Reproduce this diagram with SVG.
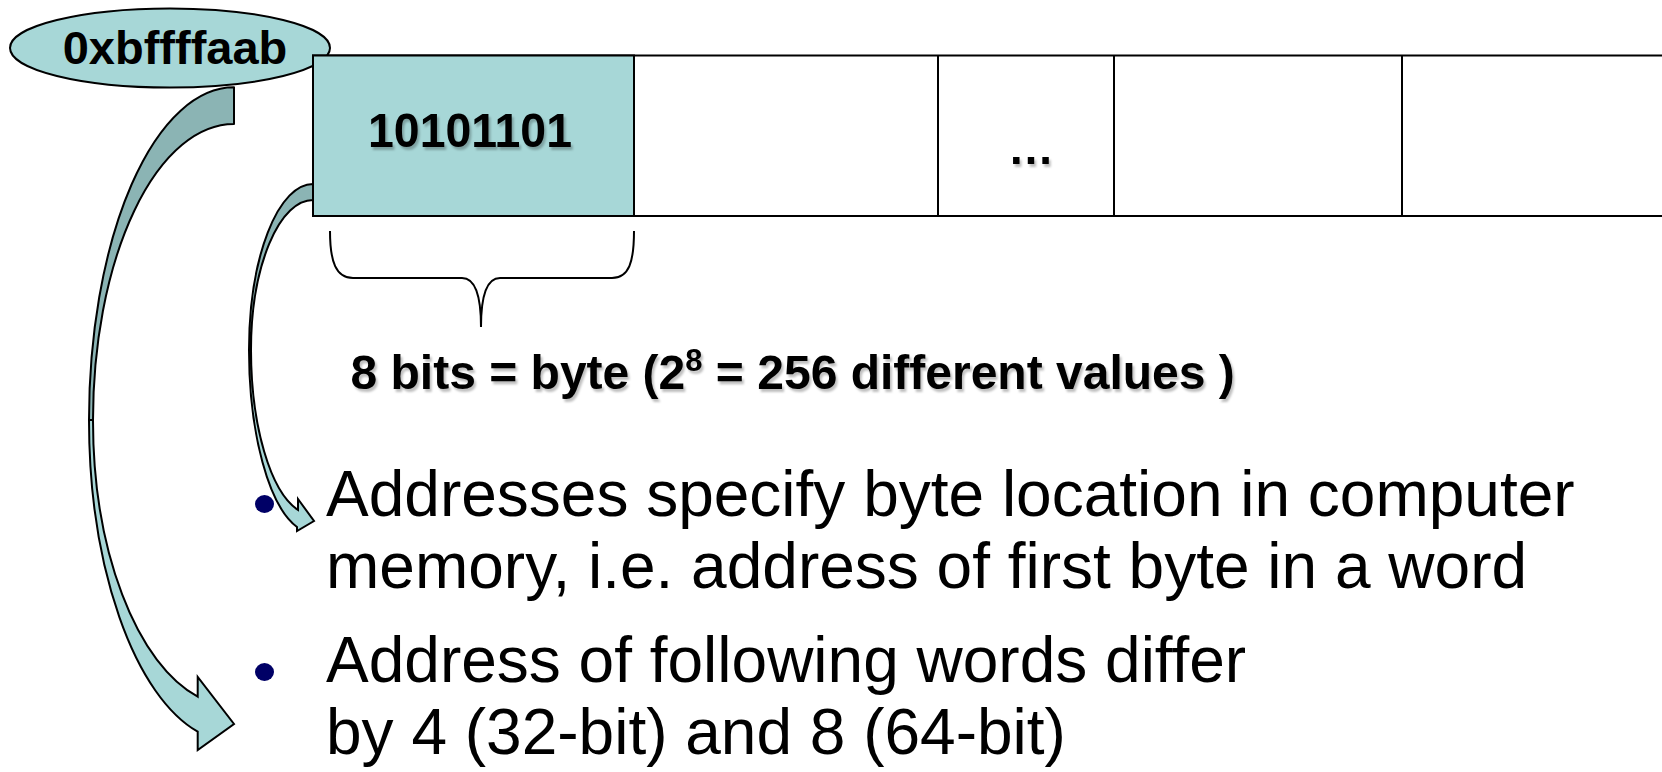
<svg xmlns="http://www.w3.org/2000/svg" width="1662" height="772" viewBox="0 0 1662 772">
<style>
.bold{font-family:"Liberation Sans",Arial,sans-serif;font-weight:bold;fill:#000}
.body{font-family:"Liberation Sans",Arial,sans-serif;font-size:64px;fill:#000}
.teal{fill:#A7D7D7;stroke:#000;stroke-width:2}
.back{fill:#8BB4B4;stroke:#000;stroke-width:2;stroke-linejoin:round}
.front{fill:#A7D7D7;stroke:#000;stroke-width:2;stroke-linejoin:miter}
.line{fill:none;stroke:#000;stroke-width:2}
.bullet{fill:#000066}
</style>
<defs>
<filter id="shadow" x="-10%" y="-20%" width="120%" height="150%">
<feDropShadow dx="2" dy="3" stdDeviation="1.2" flood-color="#000" flood-opacity="0.25"/>
</filter>
</defs>
<rect width="1662" height="772" fill="#fff"/>

<g id="address">
<ellipse class="teal" cx="170" cy="48" rx="160" ry="39.5"/>
<text class="bold" x="175" y="64" font-size="47" text-anchor="middle">0xbffffaab</text>
</g>

<g id="connectors">
<path class="back" d="M 234 87.3 A 145 332.7 0 0 0 89 420 L 93 420 A 141 296 0 0 1 234 124 Z"/>
<path class="front" d="M 89 420 A 145 322 0 0 0 197.7 731.7 L 197.7 750 L 234 724 L 197.7 677 L 197.7 696.7 A 141 286 0 0 1 93 420 Z"/>
<path class="back" d="M 313 184 A 64 166 0 0 0 249 350 L 251 350 A 62 150 0 0 1 313 200 Z"/>
<path class="front" d="M 249 350 A 64 183 0 0 0 297 527 L 297 531 L 314 521 L 298 499 L 298 510 A 62 165 0 0 1 251 350 Z"/>
</g>

<g id="memory">
<rect x="313" y="55.5" width="1400" height="160.5" fill="#fff" stroke="#000" stroke-width="2"/>
<rect class="teal" x="313" y="55.5" width="321" height="160.5"/>
<line class="line" x1="938" y1="55.5" x2="938" y2="216"/>
<line class="line" x1="1114" y1="55.5" x2="1114" y2="216"/>
<line class="line" x1="1402" y1="55.5" x2="1402" y2="216"/>
<text class="bold" x="470" y="147" font-size="48" text-anchor="middle" textLength="204" lengthAdjust="spacingAndGlyphs" filter="url(#shadow)">10101101</text>
<text class="bold" x="1031" y="164" font-size="46" text-anchor="middle" filter="url(#shadow)">…</text>
</g>

<g id="brace">
<path class="line" stroke-width="1.6" d="M 330 231 C 330 262 336 278 353 278 L 462 278 C 475 278 481 295 481 327 C 481 295 487 278 500 278 L 612 278 C 629 278 634 262 634 231"/>
<text class="bold" x="350.5" y="389" font-size="48" filter="url(#shadow)">8 bits = byte (2<tspan font-size="31" dy="-18">8</tspan><tspan dy="18"> = 256 different values )</tspan></text>
</g>

<g id="bullets">
<ellipse class="bullet" cx="264.5" cy="504" rx="9.5" ry="9"/>
<text class="body" x="326" y="516">Addresses specify byte location in computer</text>
<text class="body" x="326" y="588">memory, i.e. address of first byte in a word</text>
<ellipse class="bullet" cx="264.5" cy="672" rx="9.5" ry="9"/>
<text class="body" x="326" y="682">Address of following words differ</text>
<text class="body" x="326" y="754">by 4 (32-bit) and 8 (64-bit)</text>
</g>
</svg>
